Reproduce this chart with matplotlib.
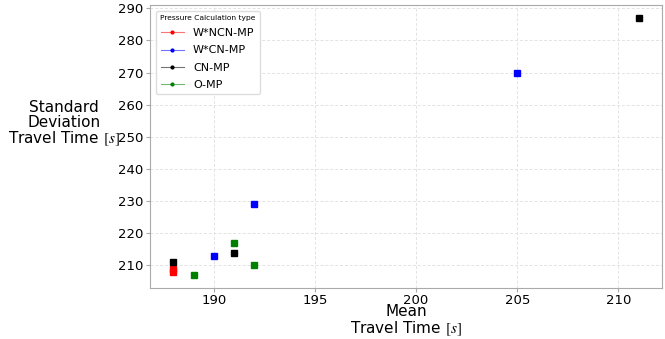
import matplotlib
matplotlib.use("Agg")
import matplotlib.pyplot as plt
from matplotlib.lines import Line2D

plt.rcParams["mathtext.fontset"] = "stix"

series = ["W*NCN-MP", "W*CN-MP", "CN-MP", "O-MP"]
colors = ["red", "blue", "black", "green"]
mean_tt = {
    "W*NCN-MP": [188, 188],
    "W*CN-MP": [190, 192, 205],
    "CN-MP": [188, 191, 211],
    "O-MP": [189, 191, 192],
}
std_tt = {
    "W*NCN-MP": [208, 209],
    "W*CN-MP": [213, 229, 270],
    "CN-MP": [211, 214, 287],
    "O-MP": [207, 217, 210],
}

W, H = 665, 339
fig = plt.figure(figsize=(W/100, H/100), dpi=100)
ax = fig.add_axes([150/W, 1-288/H, 512/W, 283/H])
for s, c in zip(series, colors):
    ax.plot(mean_tt[s], std_tt[s], linestyle="none", marker="s", markersize=4, color=c)

ax.grid(True, color="#e3e3e3", linestyle=(0, (3, 2)), linewidth=0.7)
ax.set_axisbelow(True)
for sp in ax.spines.values():
    sp.set_color("#aaaaaa")
ax.tick_params(labelsize=9.5, color="#aaaaaa", length=3, pad=2)
ax.tick_params(axis="x", pad=1)
ax.set_xticks([190, 195, 200, 205, 210])
ax.set_yticks(range(210, 291, 10))

fig.text(406/W, 1-316.5/H, "Mean", fontsize=11, ha="center", va="baseline")
fig.text(406/W, 1-333/H, "Travel Time $[s]$", fontsize=11, ha="center", va="baseline")
fig.text(64/W, 1-124/H, "Standard\nDeviation\nTravel Time $[s]$", fontsize=11, ha="center",
         va="center", linespacing=1.0, multialignment="center")

handles = [Line2D([0], [0], color=c, marker=".", linewidth=0.8, markersize=4) for c in colors]
leg = ax.legend(handles, series, title="Pressure Calculation type", loc="upper left",
                fontsize=8, title_fontsize=5.4, framealpha=1, edgecolor="#dddddd",
                handlelength=2.1, handletextpad=0.8, borderaxespad=0.5, labelspacing=0.65)
for line in leg.get_lines():
    c = line.get_color()
    line.set_color(matplotlib.colors.to_rgba(c, 0.55))
    line.set_markerfacecolor(c)
    line.set_markeredgecolor(c)
fig.savefig("out.png", dpi=100)
